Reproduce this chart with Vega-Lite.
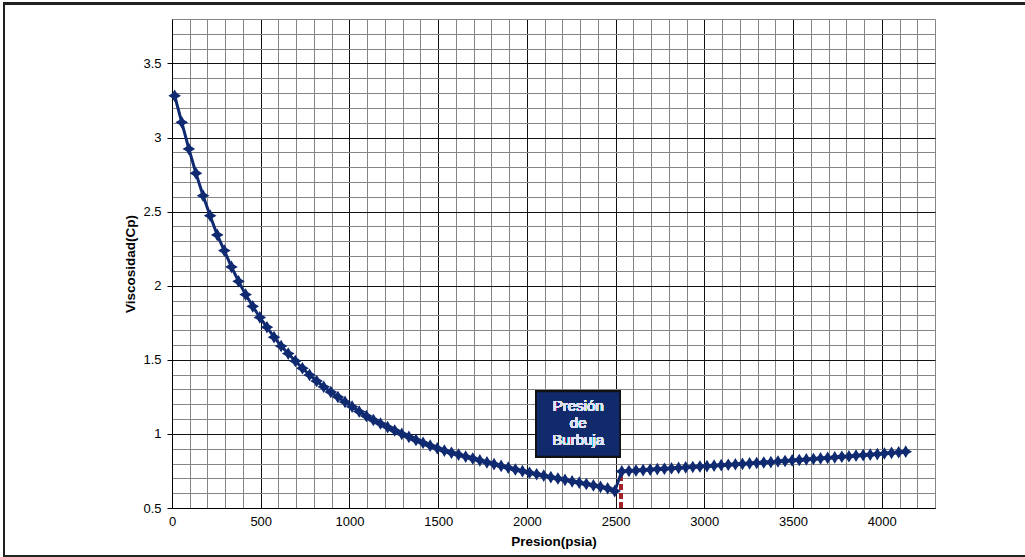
{
  "$schema": "https://vega.github.io/schema/vega-lite/v6.json",
  "width": 763,
  "height": 489,
  "autosize": "none",
  "padding": {"left": 172, "top": 19, "right": 90, "bottom": 49},
  "background": "white",
  "config": {
    "view": {"stroke": null},
    "font": "Liberation Sans",
    "axis": {"labelFont": "Liberation Sans", "titleFont": "Liberation Sans"}
  },
  "data": {"values": [
    {"p": 15, "v": 3.282}, {"p": 55, "v": 3.103}, {"p": 95, "v": 2.923}, {"p": 135, "v": 2.759},
    {"p": 175, "v": 2.608}, {"p": 215, "v": 2.473}, {"p": 255, "v": 2.343}, {"p": 295, "v": 2.237},
    {"p": 335, "v": 2.127}, {"p": 375, "v": 2.030}, {"p": 415, "v": 1.940}, {"p": 455, "v": 1.861},
    {"p": 495, "v": 1.786}, {"p": 535, "v": 1.720}, {"p": 575, "v": 1.653}, {"p": 615, "v": 1.593},
    {"p": 655, "v": 1.542}, {"p": 695, "v": 1.492}, {"p": 735, "v": 1.443}, {"p": 775, "v": 1.398},
    {"p": 815, "v": 1.357}, {"p": 855, "v": 1.318}, {"p": 895, "v": 1.283}, {"p": 935, "v": 1.249},
    {"p": 975, "v": 1.216}, {"p": 1015, "v": 1.184}, {"p": 1055, "v": 1.151}, {"p": 1095, "v": 1.121},
    {"p": 1135, "v": 1.094}, {"p": 1175, "v": 1.070}, {"p": 1215, "v": 1.046}, {"p": 1255, "v": 1.023},
    {"p": 1295, "v": 1.000}, {"p": 1335, "v": 0.980}, {"p": 1375, "v": 0.959}, {"p": 1415, "v": 0.940},
    {"p": 1455, "v": 0.921}, {"p": 1495, "v": 0.903}, {"p": 1535, "v": 0.887}, {"p": 1575, "v": 0.873},
    {"p": 1615, "v": 0.860}, {"p": 1655, "v": 0.847}, {"p": 1695, "v": 0.834}, {"p": 1735, "v": 0.821},
    {"p": 1775, "v": 0.808}, {"p": 1815, "v": 0.796}, {"p": 1855, "v": 0.784}, {"p": 1895, "v": 0.772},
    {"p": 1935, "v": 0.760}, {"p": 1975, "v": 0.749}, {"p": 2015, "v": 0.738}, {"p": 2055, "v": 0.728},
    {"p": 2095, "v": 0.718}, {"p": 2135, "v": 0.708}, {"p": 2175, "v": 0.699}, {"p": 2215, "v": 0.690},
    {"p": 2255, "v": 0.680}, {"p": 2295, "v": 0.671}, {"p": 2335, "v": 0.662}, {"p": 2375, "v": 0.653},
    {"p": 2415, "v": 0.643}, {"p": 2455, "v": 0.633}, {"p": 2495, "v": 0.614},
    {"p": 2535, "v": 0.747}, {"p": 2575, "v": 0.750}, {"p": 2615, "v": 0.753}, {"p": 2655, "v": 0.756},
    {"p": 2695, "v": 0.759}, {"p": 2735, "v": 0.762}, {"p": 2775, "v": 0.765}, {"p": 2815, "v": 0.768},
    {"p": 2855, "v": 0.771}, {"p": 2895, "v": 0.774}, {"p": 2935, "v": 0.777}, {"p": 2975, "v": 0.780},
    {"p": 3015, "v": 0.783}, {"p": 3055, "v": 0.786}, {"p": 3095, "v": 0.789}, {"p": 3135, "v": 0.792},
    {"p": 3175, "v": 0.795}, {"p": 3215, "v": 0.798}, {"p": 3255, "v": 0.801}, {"p": 3295, "v": 0.804},
    {"p": 3335, "v": 0.807}, {"p": 3375, "v": 0.810}, {"p": 3415, "v": 0.814}, {"p": 3455, "v": 0.817},
    {"p": 3495, "v": 0.821}, {"p": 3535, "v": 0.824}, {"p": 3575, "v": 0.828}, {"p": 3615, "v": 0.831},
    {"p": 3655, "v": 0.835}, {"p": 3695, "v": 0.838}, {"p": 3735, "v": 0.842}, {"p": 3775, "v": 0.846},
    {"p": 3815, "v": 0.849}, {"p": 3855, "v": 0.853}, {"p": 3895, "v": 0.857}, {"p": 3935, "v": 0.860},
    {"p": 3975, "v": 0.864}, {"p": 4015, "v": 0.868}, {"p": 4055, "v": 0.872}, {"p": 4095, "v": 0.876},
    {"p": 4135, "v": 0.880}
  ]},
  "layer": [
    {
      "mark": {"type": "rect", "fill": null, "stroke": "#222", "strokeWidth": 1.5, "clip": false},
      "encoding": {
        "x": {"datum": -947, "type": "quantitative", "scale": {"domain": [0, 4300], "nice": false, "zero": false}},
        "x2": {"datum": 4860},
        "y": {"datum": 3.905, "type": "quantitative", "scale": {"domain": [0.5, 3.8], "nice": false, "zero": false}},
        "y2": {"datum": 0.178}
      }
    },
    {
      "mark": {"type": "rule", "color": "#a3232b", "strokeWidth": 3, "strokeDash": [6, 3]},
      "encoding": {
        "x": {"datum": 2530, "type": "quantitative"},
        "y": {"datum": 0.5, "type": "quantitative"},
        "y2": {"datum": 0.745}
      }
    },
    {
      "mark": {"type": "line", "color": "#0f2a70", "strokeWidth": 3,
        "point": {"shape": "M0,-1L0.38,-0.38L1,0L0.38,0.38L0,1L-0.38,0.38L-1,0L-0.38,-0.38Z", "size": 160, "filled": true, "color": "#0f2a70"}},
      "encoding": {
        "x": {"field": "p", "type": "quantitative", "scale": {"domain": [0, 4300], "nice": false, "zero": false},
          "axis": {
            "title": "Presion(psia)", "titleFontWeight": "bold", "titleFontSize": 13.5, "titleColor": "#000", "titlePadding": 6,
            "values": [0,100,200,300,400,500,600,700,800,900,1000,1100,1200,1300,1400,1500,1600,1700,1800,1900,2000,2100,2200,2300,2400,2500,2600,2700,2800,2900,3000,3100,3200,3300,3400,3500,3600,3700,3800,3900,4000,4100,4200,4300],
            "tickCount": 200,
            "labelExpr": "datum.value % 500 === 0 ? format(datum.value, 'd') : ''",
            "labelFontSize": 13, "labelColor": "#000", "labelPadding": 7, "labelFlush": false, "labelOverlap": false,
            "ticks": false, "domain": true, "domainColor": "#000", "domainWidth": 1,
            "grid": true,
            "gridColor": {"condition": {"test": "datum.value % 500 === 0", "value": "#111"}, "value": "#858585"},
            "gridWidth": 1, "gridOpacity": 1
          }},
        "y": {"field": "v", "type": "quantitative", "scale": {"domain": [0.5, 3.8], "nice": false, "zero": false},
          "axis": {
            "title": "Viscosidad(Cp)", "titleFontWeight": "bold", "titleFontSize": 13.5, "titleColor": "#000", "titlePadding": 5,
            "values": [0.5,0.6,0.7,0.8,0.9,1,1.1,1.2,1.3,1.4,1.5,1.6,1.7,1.8,1.9,2,2.1,2.2,2.3,2.4,2.5,2.6,2.7,2.8,2.9,3,3.1,3.2,3.3,3.4,3.5,3.6,3.7,3.8],
            "tickCount": 200,
            "labelExpr": "abs(datum.value*2 - round(datum.value*2)) < 0.001 ? format(datum.value, '~g') : ''",
            "labelFontSize": 13, "labelColor": "#000", "labelPadding": 6, "labelOverlap": false, "labelFlush": false,
            "ticks": true, "tickSize": 5, "tickColor": "#000",
            "tickOpacity": {"condition": {"test": "abs(datum.value*2 - round(datum.value*2)) < 0.001", "value": 1}, "value": 0},
            "domain": true, "domainColor": "#000", "domainWidth": 1,
            "grid": true,
            "gridColor": {"condition": {"test": "abs(datum.value*2 - round(datum.value*2)) < 0.001", "value": "#111"}, "value": "#858585"},
            "gridWidth": 1, "gridOpacity": 1
          }}
      }
    },
    {
      "mark": {"type": "rect", "fill": "#112a6c", "stroke": "#111", "strokeWidth": 1.5},
      "encoding": {
        "x": {"datum": 2052, "type": "quantitative"},
        "x2": {"datum": 2525},
        "y": {"datum": 1.286, "type": "quantitative"},
        "y2": {"datum": 0.848}
      }
    },
    {
      "mark": {"type": "text", "text": ["Presión", "de", "Burbuja"], "color": "#dfe2f4", "font": "Liberation Sans", "fontSize": 15, "fontWeight": "normal", "lineHeight": 17, "align": "center", "baseline": "middle"},
      "encoding": {
        "x": {"datum": 2289, "type": "quantitative"},
        "y": {"datum": 1.19, "type": "quantitative"}
      }
    }
  ]
}
